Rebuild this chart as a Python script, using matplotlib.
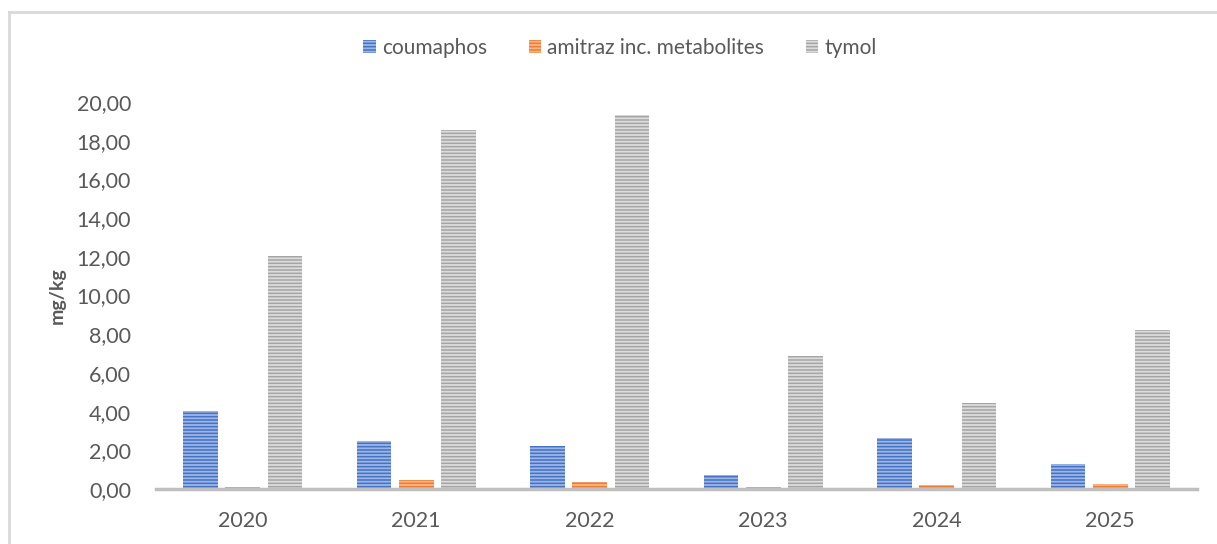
import numpy as np
import matplotlib.pyplot as plt
from matplotlib.lines import Line2D
from matplotlib.ticker import FuncFormatter

# ------------------------------------------------------------
# data
# ------------------------------------------------------------
years = ["2020", "2021", "2022", "2023", "2024", "2025"]
coumaphos = [4.03, 2.48, 2.22, 0.72, 2.64, 1.29]
amitraz = [0.10, 0.47, 0.36, 0.10, 0.20, 0.26]
tymol = [12.04, 18.55, 19.33, 6.87, 4.44, 8.22]

series_names = ["coumaphos", "amitraz inc. metabolites", "tymol"]

plt.rcParams["font.family"] = ["Lato", "DejaVu Sans"]
plt.rcParams["hatch.linewidth"] = 1.3

W, H = 1217, 544
fig = plt.figure(figsize=(W / 100, H / 100), dpi=100)
ax = fig.add_axes([156 / W, 1 - 489 / H, (1197 - 156) / W, (489 - 102) / H])

x = np.arange(len(years))
bw = 0.2
step = 0.243
styles = [
    ("#4472C4", "#9DB6E6"),
    ("#ED7D31", "#F6B58A"),
    ("#A5A5A5", "#DCDCDC"),
]
for i, (vals, name) in enumerate(zip([coumaphos, amitraz, tymol], series_names)):
    fc, hc = styles[i]
    ax.bar(x + (i - 1) * step, vals, width=bw, color=fc, edgecolor=hc,
           hatch="-----", linewidth=0, label=name)

ax.set_xlim(-0.5, len(years) - 0.5)
ax.set_ylim(0, 20)
ax.set_yticks(np.arange(0, 21, 2))
ax.yaxis.set_major_formatter(FuncFormatter(lambda v, p: f"{v:.2f}".replace(".", ",")))
ax.set_xticks(x)
ax.set_xticklabels(years)

for s in ["top", "right", "left"]:
    ax.spines[s].set_visible(False)
ax.spines["bottom"].set_color("#BFBFBF")
ax.spines["bottom"].set_linewidth(2.5)
ax.tick_params(axis="both", length=0, labelsize=15.5, colors="#595959")
ax.tick_params(axis="y", pad=18)
ax.tick_params(axis="x", pad=16)

ax.set_ylabel("mg/kg", fontsize=14, fontweight="bold", color="#595959", labelpad=8)

ax.legend(loc="center", bbox_to_anchor=(620 / W, (H - 48) / H), bbox_transform=fig.transFigure,
          ncol=3, frameon=False, fontsize=15, labelcolor="#595959",
          handlelength=0.6, handleheight=0.6, handletextpad=0.3, columnspacing=2.0)

# chart frame (partially visible)
fig.add_artist(Line2D([8.5 / W, 8.5 / W], [0, 1 - 12 / H], color="#D9D9D9", lw=2,
                      transform=fig.transFigure))
fig.add_artist(Line2D([8.5 / W, 1], [1 - 12 / H, 1 - 12 / H], color="#D9D9D9", lw=2,
                      transform=fig.transFigure))

fig.savefig("out.png", dpi=100)
